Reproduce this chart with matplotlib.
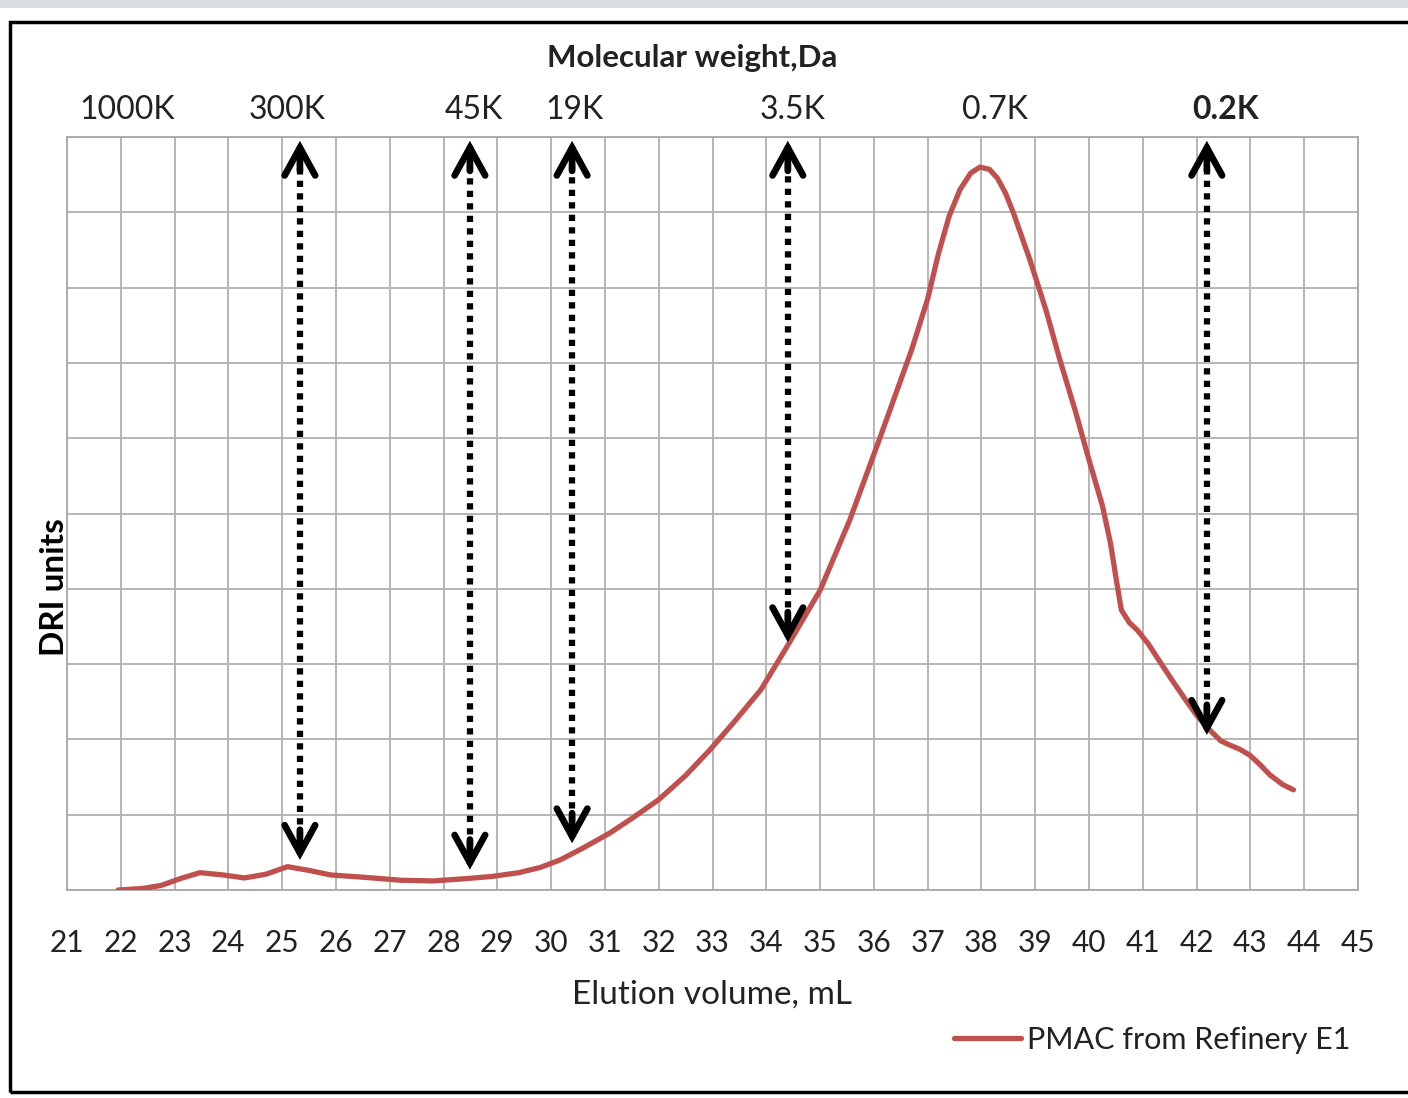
import matplotlib.pyplot as plt
import matplotlib.transforms as mtransforms
from matplotlib.patches import Rectangle
import numpy as np

plt.rcParams['font.family'] = ['Lato', 'DejaVu Sans']

# DRI trace
elution_ml = [21.95, 22.4, 22.75, 23.1, 23.47, 23.9, 24.3, 24.7, 25.1, 25.5, 25.9,
              26.5, 27.2, 27.8, 28.4, 28.9, 29.4, 29.8, 30.17, 30.6, 31.1, 31.5,
              32.0, 32.5, 32.95, 33.4, 33.9, 34.4, 35.0, 35.55, 36.1, 36.7, 37.0,
              37.2, 37.4, 37.6, 37.8, 37.97, 38.15, 38.3, 38.45, 38.6, 38.9, 39.2,
              39.45, 39.75, 40.0, 40.25, 40.4, 40.5, 40.6, 40.75, 40.9, 41.1, 41.3,
              41.55, 41.8, 42.0, 42.25, 42.45, 42.6, 42.8, 42.99, 43.2, 43.36, 43.6, 43.8]
dri = [0.0, 0.02, 0.06, 0.15, 0.23, 0.2, 0.16, 0.21, 0.31, 0.26, 0.2,
       0.17, 0.13, 0.12, 0.15, 0.18, 0.23, 0.3, 0.4, 0.56, 0.76, 0.95,
       1.2, 1.52, 1.86, 2.23, 2.66, 3.25, 3.98, 4.91, 5.98, 7.17, 7.85,
       8.45, 8.95, 9.3, 9.52, 9.6, 9.57, 9.45, 9.25, 8.98, 8.37, 7.7,
       7.06, 6.35, 5.71, 5.1, 4.6, 4.15, 3.72, 3.55, 3.45, 3.27, 3.05,
       2.78, 2.52, 2.32, 2.12, 1.98, 1.93, 1.87, 1.79, 1.65, 1.53, 1.4, 1.33]

# calibration marks (double arrows)
arrow_x = [25.33, 28.49, 30.39, 34.40, 42.19]
arrow_low = [0.4, 0.27, 0.62, 3.29, 2.06]
arrow_high = 9.95

# molecular weight labels along the top
mw_labels = ['1000K', '300K', '45K', '19K', '3.5K', '0.7K', '0.2K']
mw_pos = [22.12, 25.09, 28.57, 30.44, 34.48, 38.25, 42.53]

fig = plt.figure(figsize=(14.08, 10.98), dpi=100)
ax = fig.add_axes([67/1408, 1 - 890/1098, (1358-67)/1408, (890-137)/1098])

# background decorations
fig.add_artist(Rectangle((0, 1 - 8/1098), 1, 8/1098, transform=fig.transFigure,
                         facecolor='#dcdde0', edgecolor='none'))
fig.add_artist(Rectangle((10/1408, 1 - 1092/1098), 1.2, (1092-22)/1098,
                         transform=fig.transFigure, fill=False,
                         edgecolor='black', lw=2.5))

ax.plot(elution_ml, dri, color='#c0504d', lw=3.8, solid_capstyle='round',
        solid_joinstyle='round', label='PMAC from Refinery E1', zorder=3)

for x, lo in zip(arrow_x, arrow_low):
    ax.plot([x, x], [lo + 0.3, arrow_high - 0.3], color='black', lw=4.5,
            linestyle=(0, (1, 1)), dash_capstyle='butt', zorder=4)
    for tip, tail in [(arrow_high, arrow_high - 0.4), (lo, lo + 0.4)]:
        ax.annotate('', xy=(x, tip), xytext=(x, tail),
                    arrowprops=dict(arrowstyle='->,head_length=1.0,head_width=0.55',
                                    mutation_scale=20, lw=4.8, color='black',
                                    shrinkA=0, shrinkB=0, capstyle='round',
                                    joinstyle='miter'),
                    zorder=5)

ax.set_xlim(21, 45)
ax.set_ylim(0, 10)
ax.set_xticks(np.arange(21, 46, 1))
ax.set_yticks(np.arange(0, 11, 1))
ax.set_yticklabels([])
ax.tick_params(axis='x', length=0, pad=28, labelsize=21.5, labelcolor='#222222')
ax.tick_params(axis='y', length=0)
ax.grid(True, color='#b0b0b0', lw=1.3)
for s in ax.spines.values():
    s.set_color('#a8a8a8')
    s.set_linewidth(1.3)

ax.set_xlabel('Elution volume, mL', fontsize=24, color='#222222', labelpad=16)

trans = mtransforms.blended_transform_factory(ax.transData, ax.transAxes)
for lab, pos in zip(mw_labels, mw_pos):
    ax.text(pos, 1.036, lab, transform=trans, ha='center', va='center',
            fontsize=23, color='#222222',
            fontweight='bold' if lab == '0.2K' else 'normal')

fig.text(692/1408, 1 - 58/1098, 'Molecular weight,Da', ha='center', va='center',
         fontsize=22.5, fontweight='bold', color='#222222')
fig.text(55/1408, 1 - 587/1098, 'DRI units', ha='center', va='center',
         rotation=90, fontsize=24, fontweight='bold', color='black')

ax.legend(loc='center right', bbox_to_anchor=(1378/1408, 1 - 1040/1098),
          bbox_transform=fig.transFigure, frameon=False, fontsize=22,
          handlelength=2.2, handletextpad=0.2, labelcolor='#222222')

fig.savefig('out.png', dpi=100)
